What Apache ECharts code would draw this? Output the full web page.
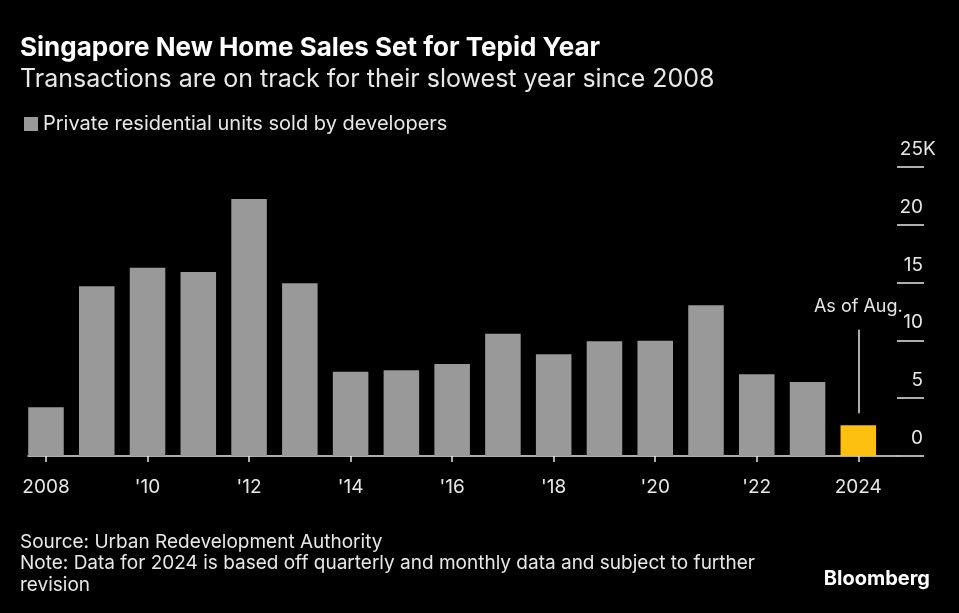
<!DOCTYPE html>
<html><head><meta charset="utf-8">
<script src="https://cdn.jsdelivr.net/npm/echarts@6/dist/echarts.min.js"></script>
<style>html,body{margin:0;padding:0;background:#000;}#c{width:959px;height:613px;}</style>
</head><body><div id="c"></div>
<script>
const years = ['2008','2009','2010','2011','2012','2013','2014','2015','2016','2017','2018','2019','2020','2021','2022','2023','2024'];
const unitsSold = [4210, 14660, 16270, 15900, 22210, 14920, 7290, 7400, 7950, 10570, 8790, 9910, 9970, 13020, 7060, 6390, 2650];
const yTicks = [0, 5000, 10000, 15000, 20000, 25000];
const title = 'Singapore New Home Sales Set for Tepid Year';
const subtitle = 'Transactions are on track for their slowest year since 2008';
const legendName = 'Private residential units sold by developers';
const annotation = 'As of Aug.';
const annotationRange = [3700, 10900];
const FONT = 'Inter, "Liberation Sans", Arial, sans-serif';
const GRAY = '#999999', YELLOW = '#FDC010', TXT = '#e8e8e8';

const chart = echarts.init(document.getElementById('c'), null, {renderer: 'canvas'});
const yMax = yTicks[yTicks.length - 1];
const yInt = yTicks[1] - yTicks[0];
chart.setOption({
  backgroundColor: '#000',
  animation: false,
  textStyle: {fontFamily: FONT},
  title: [
    {text: title, left: 20, top: 35, padding: 0, textStyle: {color: '#fff', fontSize: 26, fontWeight: 'bold', fontFamily: FONT}},
    {text: subtitle, left: 20, top: 67, padding: 0, textStyle: {color: TXT, fontSize: 25, fontWeight: 'normal', fontFamily: FONT}},
    {text: 'Source: Urban Redevelopment Authority\nNote: Data for 2024 is based off quarterly and monthly data and subject to further\nrevision',
     left: 20, top: 531, padding: 0, textStyle: {color: TXT, fontSize: 19, lineHeight: 21.8, fontWeight: 'normal', fontFamily: FONT}},
    {text: 'Bloomberg', right: 29, top: 569, padding: 0, textStyle: {color: '#fff', fontSize: 20, fontWeight: 'bold', fontFamily: FONT}}
  ],
  legend: {
    left: 24, top: 114, padding: 0, itemWidth: 14, itemHeight: 14, icon: 'rect', itemGap: 8,
    textStyle: {color: TXT, fontSize: 20, fontFamily: FONT},
    data: [{name: legendName, itemStyle: {color: GRAY}}]
  },
  grid: [
    {left: 20.6, right: 75.3, top: 166.7, bottom: 157},
    {left: 28, right: 62, top: 166.7, bottom: 157}
  ],
  xAxis: [
    {type: 'category', gridIndex: 0, data: years,
     axisLine: {show: true, lineStyle: {color: 'rgba(0,0,0,0)'}},
     axisTick: {show: true, alignWithLabel: true, interval: 1, length: 6, lineStyle: {color: TXT, width: 1.5}},
     axisLabel: {interval: 1, color: TXT, fontSize: 19, margin: 22,
       formatter: (v, i) => (i === 0 || i === years.length - 1) ? v : "'" + v.slice(2)}},
    {type: 'value', gridIndex: 1, min: 0, max: 1, show: true,
     axisLine: {show: true, onZero: false, lineStyle: {color: TXT, width: 1.5}},
     axisTick: {show: false}, axisLabel: {show: false}, splitLine: {show: false}}
  ],
  yAxis: [
    {type: 'value', gridIndex: 0, min: 0, max: yMax, interval: yInt, show: false, splitLine: {show: false}},
    {type: 'value', gridIndex: 1, position: 'right', min: 0, max: yMax, interval: yInt,
     axisLine: {show: false, onZero: false},
     axisTick: {show: true, inside: false, length: 27, lineStyle: {color: TXT, width: 1.5}},
     splitLine: {show: false},
     axisLabel: {color: TXT, fontSize: 19, margin: 26, align: 'right', verticalAlign: 'bottom', padding: [0, 0, 8, 0],
       formatter: v => String(v / 1000)}}
  ],
  graphic: [
    {type: 'text', left: 923, top: 140, style: {text: 'K', fill: TXT, font: '19px ' + FONT}}
  ],
  series: [{
    name: legendName, type: 'bar', xAxisIndex: 0, yAxisIndex: 0,
    barCategoryGap: '30%',
    data: unitsSold.map((v, i) => ({value: v, itemStyle: {color: i === unitsSold.length - 1 ? YELLOW : GRAY}})),
    markLine: {
      silent: true, symbol: ['none', 'none'],
      lineStyle: {color: TXT, width: 1.5, type: 'solid'},
      label: {show: true, position: 'end', formatter: annotation, color: TXT, fontSize: 18, distance: 14},
      data: [[{coord: [years[years.length - 1], annotationRange[0]]}, {coord: [years[years.length - 1], annotationRange[1]]}]]
    }
  }]
});
</script></body></html>
